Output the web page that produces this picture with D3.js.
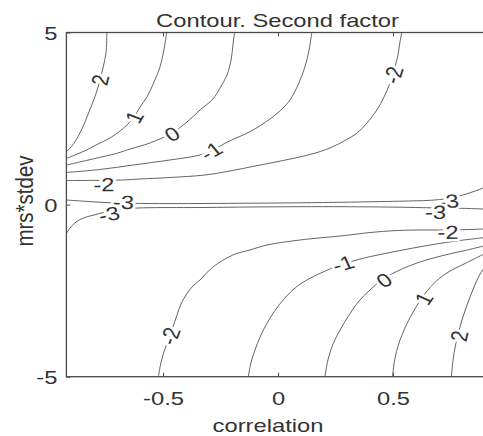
<!DOCTYPE html>
<html><head><meta charset="utf-8">
<script src="https://cdn.jsdelivr.net/npm/d3@7"></script>
<style>
html,body{margin:0;padding:0;background:#fff;}
svg{display:block;}
text{font-family:"Liberation Sans",Arial,Helvetica,sans-serif;fill:#333;}
</style></head><body>
<svg id="chart" width="483" height="436"></svg>
<script>
const titleText = "Contour. Second factor";
const xLabelText = "correlation";
const yLabelText = "mrs*stdev";
const xTicks = [-0.5, 0, 0.5];
const yTicks = [-5, 0, 5];
const xDomain = [-0.92, 0.92];
const yDomain = [-5, 5];

// contour lines, points as [correlation, mrs*stdev]
const upper2 = [[-0.744,5.0],[-0.748,4.404],[-0.761,3.969],[-0.774,3.620],[-0.789,3.271],[-0.803,3.010],[-0.822,2.690],[-0.839,2.400],[-0.859,2.109],[-0.878,1.876],[-0.898,1.688],[-0.919,1.537]];
const upper1 = [[-0.484,5.0],[-0.496,4.492],[-0.513,3.998],[-0.539,3.562],[-0.570,3.126],[-0.600,2.835],[-0.626,2.545],[-0.657,2.312],[-0.687,2.138],[-0.730,1.935],[-0.787,1.746],[-0.832,1.586],[-0.878,1.455],[-0.919,1.345]];
const upper0 = [[-0.189,5.0],[-0.196,4.637],[-0.204,4.201],[-0.222,3.765],[-0.252,3.388],[-0.283,3.068],[-0.339,2.748],[-0.396,2.399],[-0.461,2.080],[-0.557,1.789],[-0.643,1.615],[-0.701,1.490],[-0.796,1.339],[-0.919,1.150]];
const upperM1 = [[0.147,5.0],[0.135,4.492],[0.117,3.998],[0.087,3.475],[0.052,3.039],[0.022,2.806],[-0.035,2.487],[-0.122,2.118],[-0.217,1.827],[-0.291,1.557],[-0.339,1.441],[-0.470,1.296],[-0.630,1.150],[-0.774,1.020],[-0.919,0.933]];
const upperM2 = [[0.538,5.0],[0.528,4.637],[0.520,4.288],[0.504,3.910],[0.487,3.533],[0.461,3.126],[0.430,2.748],[0.387,2.371],[0.344,2.080],[0.291,1.862],[0.226,1.644],[0.139,1.456],[0.022,1.281],[-0.100,1.121],[-0.209,0.976],[-0.317,0.860],[-0.470,0.787],[-0.600,0.744],[-0.674,0.715],[-0.919,0.700]];
const lowerM2 = [[-0.520,-5.0],[-0.511,-4.660],[-0.500,-4.370],[-0.485,-4.079],[-0.470,-3.817],[-0.454,-3.498],[-0.439,-3.207],[-0.422,-2.888],[-0.397,-2.597],[-0.370,-2.365],[-0.339,-2.190],[-0.283,-1.813],[-0.196,-1.464],[-0.122,-1.319],[-0.048,-1.174],[0.096,-1.028],[0.291,-0.898],[0.400,-0.811],[0.517,-0.753],[0.617,-0.738],[0.704,-0.738],[0.835,-0.723],[0.922,-0.700]];
const lowerM1 = [[-0.129,-5.0],[-0.117,-4.573],[-0.100,-4.225],[-0.078,-3.847],[-0.052,-3.498],[-0.015,-3.097],[0.030,-2.713],[0.081,-2.385],[0.139,-2.141],[0.226,-1.871],[0.278,-1.740],[0.370,-1.560],[0.509,-1.363],[0.661,-1.174],[0.791,-1.043],[0.922,-0.941]];
const lower0 = [[0.204,-5.0],[0.217,-4.515],[0.239,-4.050],[0.270,-3.643],[0.309,-3.208],[0.352,-2.801],[0.400,-2.481],[0.457,-2.162],[0.544,-1.856],[0.617,-1.668],[0.717,-1.479],[0.813,-1.334],[0.922,-1.159]];
const lower1 = [[0.498,-5.0],[0.507,-4.515],[0.526,-4.021],[0.552,-3.585],[0.585,-3.149],[0.611,-2.858],[0.635,-2.626],[0.665,-2.379],[0.704,-2.132],[0.748,-1.929],[0.800,-1.755],[0.848,-1.595],[0.922,-1.348]];
const lower2 = [[0.754,-5.0],[0.761,-4.515],[0.772,-4.079],[0.785,-3.701],[0.800,-3.352],[0.817,-3.004],[0.835,-2.684],[0.854,-2.365],[0.874,-2.074],[0.891,-1.886],[0.922,-1.580]];
const m3a = [[-0.919,0.134],[-0.839,0.096],[-0.752,0.061],[-0.644,0.038],[-0.470,0.029],[-0.317,0.032],[-0.122,0.041],[0.096,0.052],[0.291,0.070],[0.530,0.099],[0.661,0.125],[0.739,0.177],[0.804,0.279],[0.857,0.395],[0.891,0.482],[0.922,0.584]];
const m3b = [[-0.919,-0.834],[-0.904,-0.680],[-0.883,-0.535],[-0.861,-0.433],[-0.826,-0.346],[-0.791,-0.288],[-0.752,-0.215],[-0.709,-0.157],[-0.652,-0.113],[-0.557,-0.090],[-0.317,-0.084],[-0.122,-0.070],[0.096,-0.061],[0.291,-0.061],[0.530,-0.076],[0.661,-0.093],[0.791,-0.107],[0.922,-0.134]];

const contourLevels = [2, 1, 0, -1, -2, 2, 1, 0, -1, -2, -3, -3];
const contourPoints = [upper2, upper1, upper0, upperM1, upperM2, lower2, lower1, lower0, lowerM1, lowerM2, m3a, m3b];

// inline contour labels
const labelLevels = [2, 1, 0, -1, -2, -2, -3, -3, -2, -1, 0, 1, 2, -2, -3, -3];
const labelX = [-0.774, -0.626, -0.461, -0.291, -0.757, 0.500, -0.672, -0.735, -0.470, 0.283, 0.461, 0.633, 0.787, 0.739, 0.741, 0.685];
const labelY = [3.620, 2.545, 2.051, 1.557, 0.584, 3.765, 0.075, -0.273, -3.817, -1.711, -2.191, -2.728, -3.817, -0.796, 0.100, -0.215];

const SX = 1.25;   // horizontal stretch of the original picture's text
const FS = 19;

const svg = d3.select("#chart");
const W = 483, H = 436;
const x = d3.scaleLinear().domain(xDomain).range([66.4, 489.6]);
const y = d3.scaleLinear().domain(yDomain).range([376.7, 32.5]);

svg.append("rect").attr("width", W).attr("height", H).attr("fill", "#fff");

svg.append("clipPath").attr("id", "plotclip").append("rect")
  .attr("x", x(xDomain[0])).attr("y", y(yDomain[1]))
  .attr("width", x(xDomain[1]) - x(xDomain[0])).attr("height", y(yDomain[0]) - y(yDomain[1]));

const line = d3.line().x(d => x(d[0])).y(d => y(d[1])).curve(d3.curveCatmullRom.alpha(0.5));

const gC = svg.append("g").attr("clip-path", "url(#plotclip)");
contourPoints.forEach((pts, i) => {
  gC.append("path").datum(pts).attr("d", line)
    .attr("fill", "none").attr("stroke", "#5c5c5c").attr("stroke-width", 0.95);
});

// label angle from the nearest segment of a curve with the same level
function labelAngle(lv, px, py) {
  let best = Infinity, ang = 0;
  contourPoints.forEach((pts, i) => {
    if (contourLevels[i] !== lv) return;
    for (let k = 0; k < pts.length - 1; k++) {
      const ax = x(pts[k][0]), ay = y(pts[k][1]), bx = x(pts[k+1][0]), by = y(pts[k+1][1]);
      const dx = bx - ax, dy = by - ay;
      const L2 = dx*dx + dy*dy;
      let t = ((px - ax)*dx + (py - ay)*dy) / L2;
      t = Math.max(0, Math.min(1, t));
      const qx = ax + t*dx, qy = ay + t*dy;
      const d = (px-qx)*(px-qx) + (py-qy)*(py-qy);
      if (d < best) {
        best = d;
        let ddx = dx, ddy = dy;
        if (ddx < 0) { ddx = -ddx; ddy = -ddy; }
        ang = Math.atan2(ddy, ddx / SX) * 180 / Math.PI;
      }
    }
  });
  return ang;
}

const gL = svg.append("g");
labelLevels.forEach((lv, i) => {
  const px = x(labelX[i]), py = y(labelY[i]);
  const a = labelAngle(lv, px, py);
  gL.append("text")
    .attr("transform", `translate(${px},${py}) scale(${SX},1) rotate(${a})`)
    .attr("text-anchor", "middle").attr("dy", "0.36em")
    .attr("font-size", FS)
    .attr("stroke", "#fff").attr("stroke-width", 5).attr("paint-order", "stroke")
    .attr("stroke-linejoin", "round")
    .text(String(lv));
});

// frame
svg.append("rect")
  .attr("x", x(xDomain[0])).attr("y", y(yDomain[1]))
  .attr("width", x(xDomain[1]) - x(xDomain[0])).attr("height", y(yDomain[0]) - y(yDomain[1]))
  .attr("fill", "none").attr("stroke", "#4a4a4a").attr("stroke-width", 1.3);

// axes (inward ticks)
const fmt = d => String(d);
const gB = svg.append("g").attr("transform", `translate(0,${y(yDomain[0])})`)
  .call(d3.axisBottom(x).tickValues(xTicks).tickSize(-4).tickSizeOuter(0).tickFormat(fmt));
const gT = svg.append("g").attr("transform", `translate(0,${y(yDomain[1])})`)
  .call(d3.axisTop(x).tickValues(xTicks).tickSize(-4).tickSizeOuter(0).tickFormat(""));
const gLft = svg.append("g").attr("transform", `translate(${x(xDomain[0])},0)`)
  .call(d3.axisLeft(y).tickValues(yTicks).tickSize(-4).tickSizeOuter(0).tickFormat(fmt));
[gB, gT, gLft].forEach(g => {
  g.select(".domain").remove();
  g.selectAll(".tick line").attr("stroke", "#4a4a4a").attr("stroke-width", 1);
});
gB.selectAll(".tick text")
  .attr("y", null).attr("dy", null).attr("x", null)
  .attr("transform", `translate(0,28.5) scale(${SX},1)`)
  .attr("font-size", FS).attr("font-family", null).attr("fill", "#333");
gLft.selectAll(".tick text")
  .attr("x", null).attr("dy", null)
  .attr("transform", `translate(-9,7) scale(${SX},1)`)
  .attr("text-anchor", "end")
  .attr("font-size", FS).attr("font-family", null).attr("fill", "#333");

// title and axis labels
svg.append("text").attr("transform", `translate(277.5,27) scale(${SX},1)`)
  .attr("text-anchor", "middle").attr("font-size", FS).text(titleText);
svg.append("text").attr("transform", `translate(268,432) scale(${SX},1)`)
  .attr("text-anchor", "middle").attr("font-size", FS).text(xLabelText);
svg.append("text").attr("transform", `translate(33,201) scale(1.15,1) rotate(-90)`)
  .attr("text-anchor", "middle").attr("font-size", 20.5).text(yLabelText);
</script>
</body></html>
